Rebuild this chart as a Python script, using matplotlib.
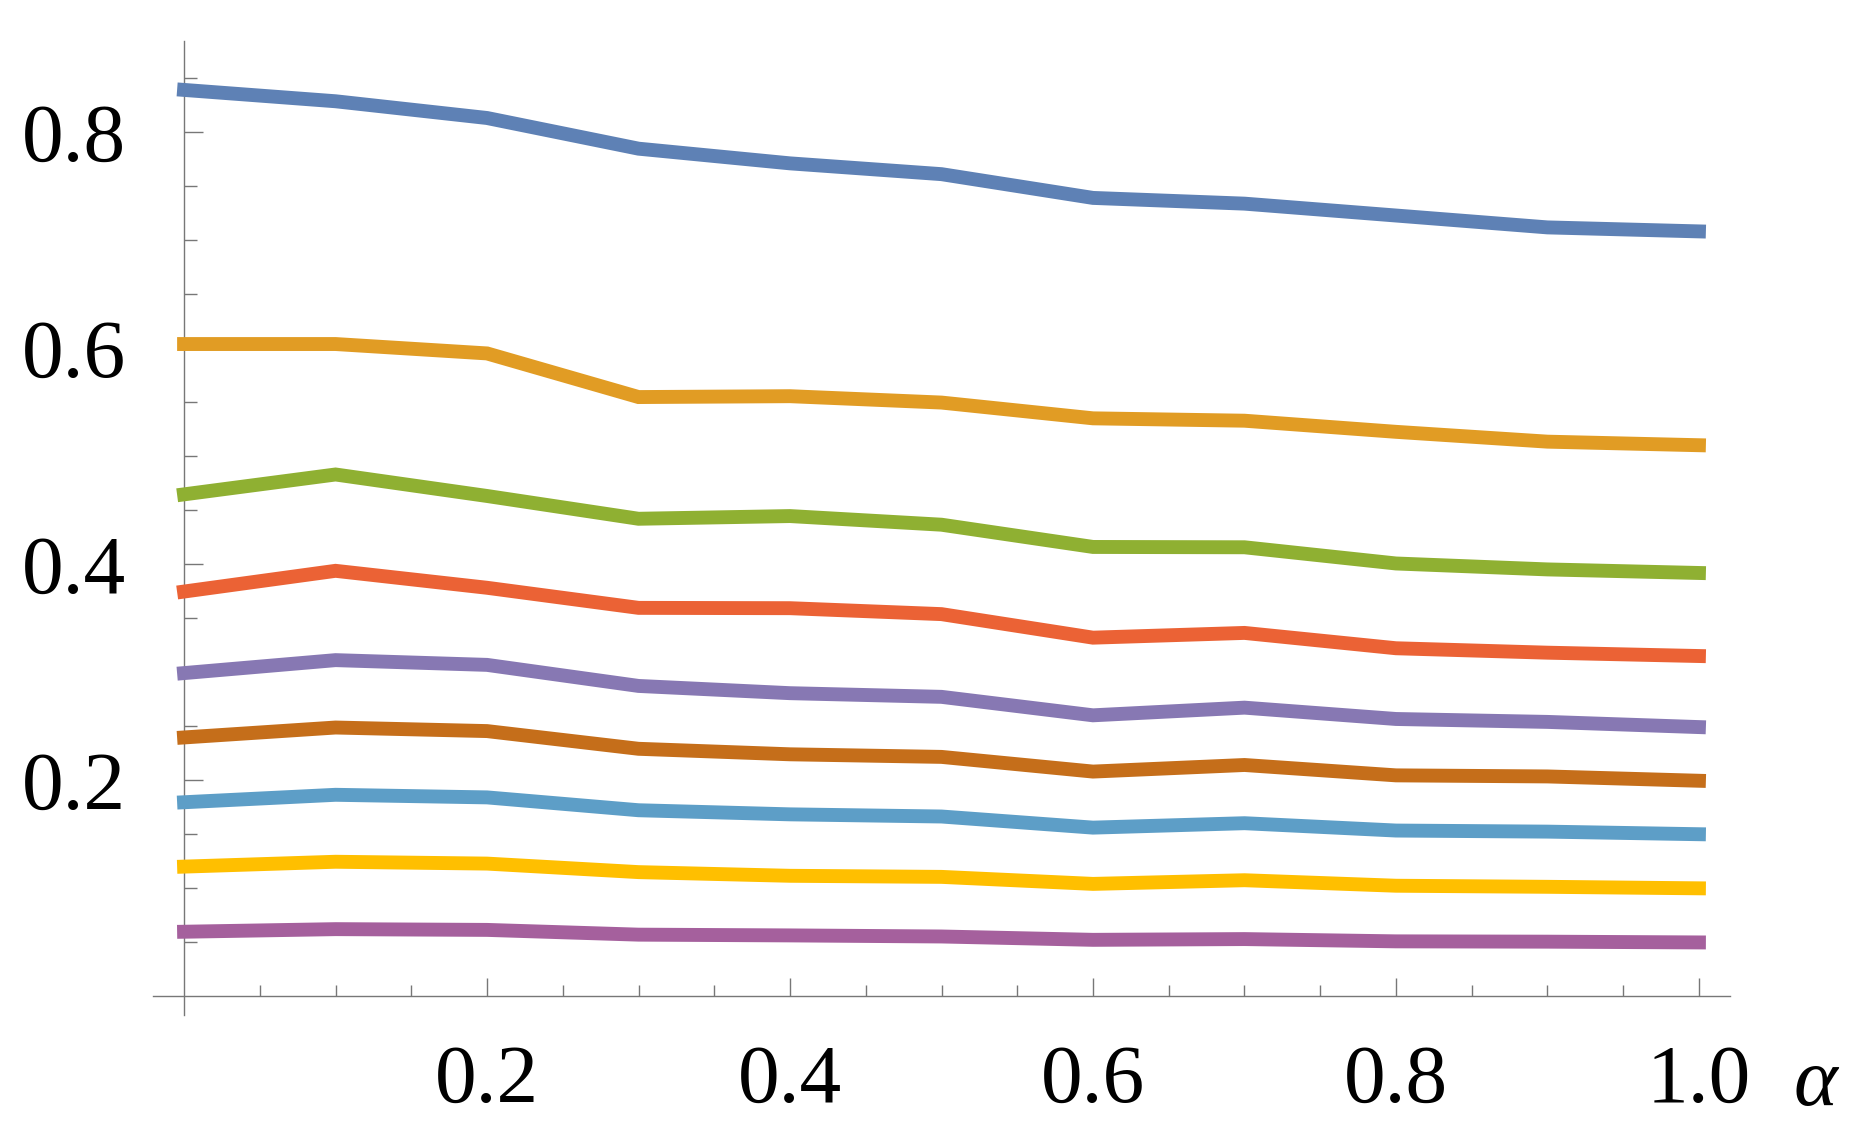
import matplotlib
matplotlib.use("Agg")
import matplotlib.pyplot as plt
from matplotlib.ticker import FixedLocator

alpha_vals = [0.0, 0.1, 0.2, 0.3, 0.4, 0.5, 0.6, 0.7, 0.8, 0.9, 1.0]

s1 = [0.839, 0.8285, 0.813, 0.7846, 0.771, 0.761, 0.739, 0.7337, 0.7227, 0.7117, 0.708]
s2 = [0.6037, 0.6037, 0.595, 0.5546, 0.5554, 0.5495, 0.5349, 0.5327, 0.5224, 0.5133, 0.510]
s3 = [0.4645, 0.4829, 0.463, 0.4419, 0.4444, 0.4364, 0.4158, 0.4155, 0.4005, 0.395, 0.3917]
s4 = [0.3745, 0.3937, 0.378, 0.3594, 0.3591, 0.3536, 0.3318, 0.3362, 0.322, 0.3179, 0.3148]
s5 = [0.299, 0.311, 0.3066, 0.2871, 0.2804, 0.277, 0.2599, 0.267, 0.2565, 0.2538, 0.249]
s6 = [0.2394, 0.2486, 0.2453, 0.2289, 0.2238, 0.2214, 0.2078, 0.2139, 0.2043, 0.2033, 0.1993]
s7 = [0.1794, 0.1863, 0.1839, 0.172, 0.1682, 0.1662, 0.1559, 0.16, 0.1532, 0.1522, 0.1498]
s8 = [0.1198, 0.1243, 0.1226, 0.1147, 0.1113, 0.1103, 0.1038, 0.1072, 0.1021, 0.1011, 0.0997]
s9 = [0.0595, 0.0619, 0.0612, 0.0568, 0.0561, 0.0551, 0.052, 0.0527, 0.0506, 0.0503, 0.0496]

series = [s1, s2, s3, s4, s5, s6, s7, s8, s9]
colors = ["#5E81B5", "#E19C24", "#8FB032", "#EB6235", "#8778B3",
          "#C56E1A", "#5D9EC7", "#FFBF00", "#A5609D"]

xticks = [0.2, 0.4, 0.6, 0.8, 1.0]
xticklabels = ["0.2", "0.4", "0.6", "0.8", "1.0"]
yticks = [0.2, 0.4, 0.6, 0.8]
yticklabels = ["0.2", "0.4", "0.6", "0.8"]
xlabel = "α"

plt.rcParams["font.family"] = ["Liberation Serif", "DejaVu Serif"]

W, H = 1866, 1137
fig = plt.figure(figsize=(W / 100, H / 100), dpi=100)
ax = fig.add_axes([153 / W, 1 - 1015 / H, (1730 - 153) / W, (1015 - 41) / H])

for ys, c in zip(series, colors):
    ax.plot(alpha_vals, ys, color=c, lw=10, solid_capstyle="projecting",
            solid_joinstyle="miter", zorder=3)

ax.set_xlim(-0.0205, 1.0205)
ax.set_ylim(-0.0176, 0.8843)

for side in ["top", "right"]:
    ax.spines[side].set_visible(False)
for side in ["left", "bottom"]:
    ax.spines[side].set_position(("data", 0))
    ax.spines[side].set_color("#777777")
    ax.spines[side].set_linewidth(1.0)

ax.xaxis.set_major_locator(FixedLocator(xticks))
ax.set_xticklabels(xticklabels)
ax.xaxis.set_minor_locator(FixedLocator([0.05 * i for i in range(1, 21) if i % 4 != 0]))
ax.yaxis.set_major_locator(FixedLocator(yticks))
ax.set_yticklabels(yticklabels)
ax.yaxis.set_minor_locator(FixedLocator([0.05 * i for i in range(1, 18) if i % 4 != 0]))

ax.tick_params(axis="x", which="major", direction="in", length=13, width=1.0,
               color="#777777", labelsize=60, pad=35)
ax.tick_params(axis="x", which="minor", direction="in", length=8, width=1.0,
               color="#777777")
ax.tick_params(axis="y", which="major", direction="in", length=14, width=1.0,
               color="#777777", labelsize=60, pad=42)
ax.tick_params(axis="y", which="minor", direction="in", length=9, width=1.0,
               color="#777777")

fig.text(1815 / W, 1 - 1105 / H, xlabel, ha="center", va="baseline",
         fontsize=60, style="italic")

fig.savefig("out.png", dpi=100)
